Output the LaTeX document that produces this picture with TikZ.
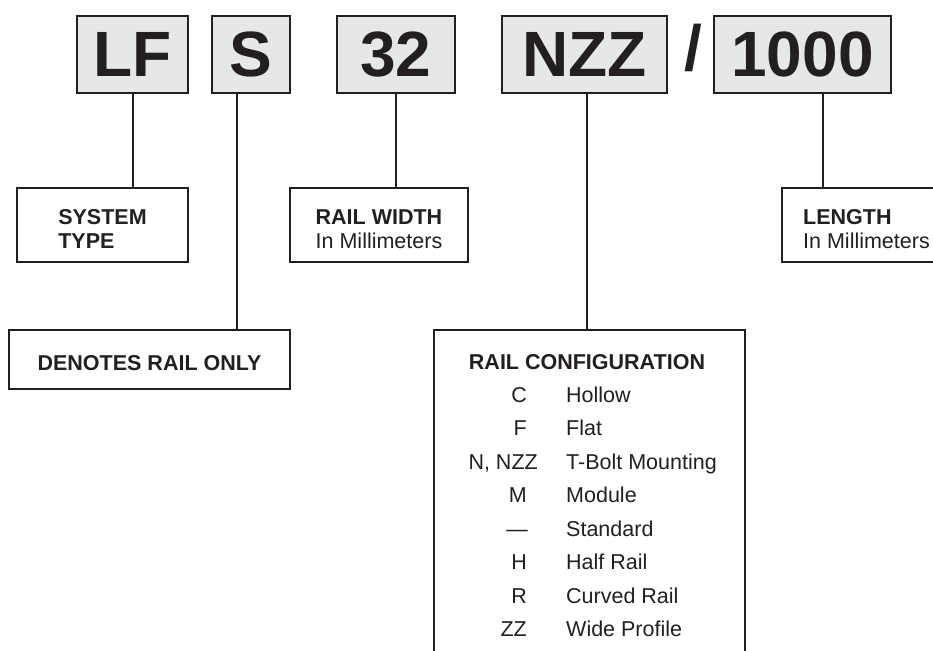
\documentclass[tikz,border=0pt]{standalone}
\usepackage{fontspec}
\setmainfont{Liberation Sans}
\usetikzlibrary{positioning}
\definecolor{railink}{HTML}{231F20}
\definecolor{railgrey}{HTML}{E6E7E8}
\tikzset{
  codebox/.style={draw=railink, fill=railgrey, line width=2.2pt, inner sep=0pt,
    minimum height=77pt, text=railink, font=\fontsize{64}{64}\selectfont\bfseries},
  infobox/.style={draw=railink, line width=2pt, inner sep=0pt, text=railink,
    align=left, minimum height=74pt, text height=46pt, text depth=0pt,
    font=\fontsize{21.5}{24}\selectfont},
  rowtext/.style={inner sep=0pt, text=railink, font=\fontsize{21.5}{24}\selectfont},
  leader/.style={draw=railink, line width=2pt},
}

\begin{document}
\begin{tikzpicture}[x=1pt, y=-1pt]
  \useasboundingbox (0,0) rectangle (933,650);
  \clip (0,0) rectangle (933,650);
  % part number segments
  \node[codebox, minimum width=111pt] (lf)   at (132.5,54.5) {LF};
  \node[codebox, minimum width=78pt]  (s)    at (251,54.5)   {S};
  \node[codebox, minimum width=118pt] (w32)  at (396,54.5)   {32};
  \node[codebox, minimum width=165pt] (nzz)  at (584.5,54.5) {NZZ};
  \node[codebox, minimum width=177pt] (mm)   at (802.5,54.5) {1000};
  \node[inner sep=0pt, text=railink, font=\fontsize{64}{64}\selectfont\bfseries,
    anchor=base] (slash) at (693,71) {/};
  % description boxes
  \node[infobox, minimum width=171pt] (systype) at (102.5,225)
    {\textbf{SYSTEM}\\\textbf{TYPE}};
  \node[infobox, minimum width=178pt] (railw) at (379,225)
    {\textbf{RAIL WIDTH}\\In Millimeters};
  \node[infobox, minimum width=169pt] (lenbox) at (866.5,225)
    {\textbf{LENGTH}\\In Millimeters};
  \node[infobox, align=center, minimum width=281pt, minimum height=59pt,
    text height=21pt] (railonly)
    at (149.5,359.5) {\textbf{DENOTES RAIL ONLY}};
  \node[infobox, minimum width=311pt, minimum height=340pt] (railcfg) at (589.5,500) {};
  \node[rowtext, anchor=base] (cfgtitle) at (587,369) {\textbf{RAIL CONFIGURATION}};
  \foreach \code/\desc/\cx [count=\i from 0] in {C/Hollow/527, F/Flat/527,
      {N, NZZ}/T-Bolt Mounting/538, M/Module/527, \textemdash/Standard/528,
      H/Half Rail/527, R/Curved Rail/527, ZZ/Wide Profile/527} {
    \node[rowtext, anchor=base east] (code\i) at (\cx,402+33.5*\i) {\code};
    \node[rowtext, anchor=base west] (desc\i) at (566,402+33.5*\i) {\desc};
  }
  % leaders
  \draw[leader] (lf.south) -- (lf.south |- systype.north);
  \draw[leader] ([xshift=-14pt]s.south) coordinate (sdrop) -- (sdrop |- railonly.north);
  \draw[leader] (w32.south) -- (w32.south |- railw.north);
  \draw[leader] ([xshift=2.5pt]nzz.south) coordinate (ndrop) -- (ndrop |- railcfg.north);
  \draw[leader] ([xshift=20.5pt]mm.south) coordinate (mdrop) -- (mdrop |- lenbox.north);
\end{tikzpicture}
\end{document}
